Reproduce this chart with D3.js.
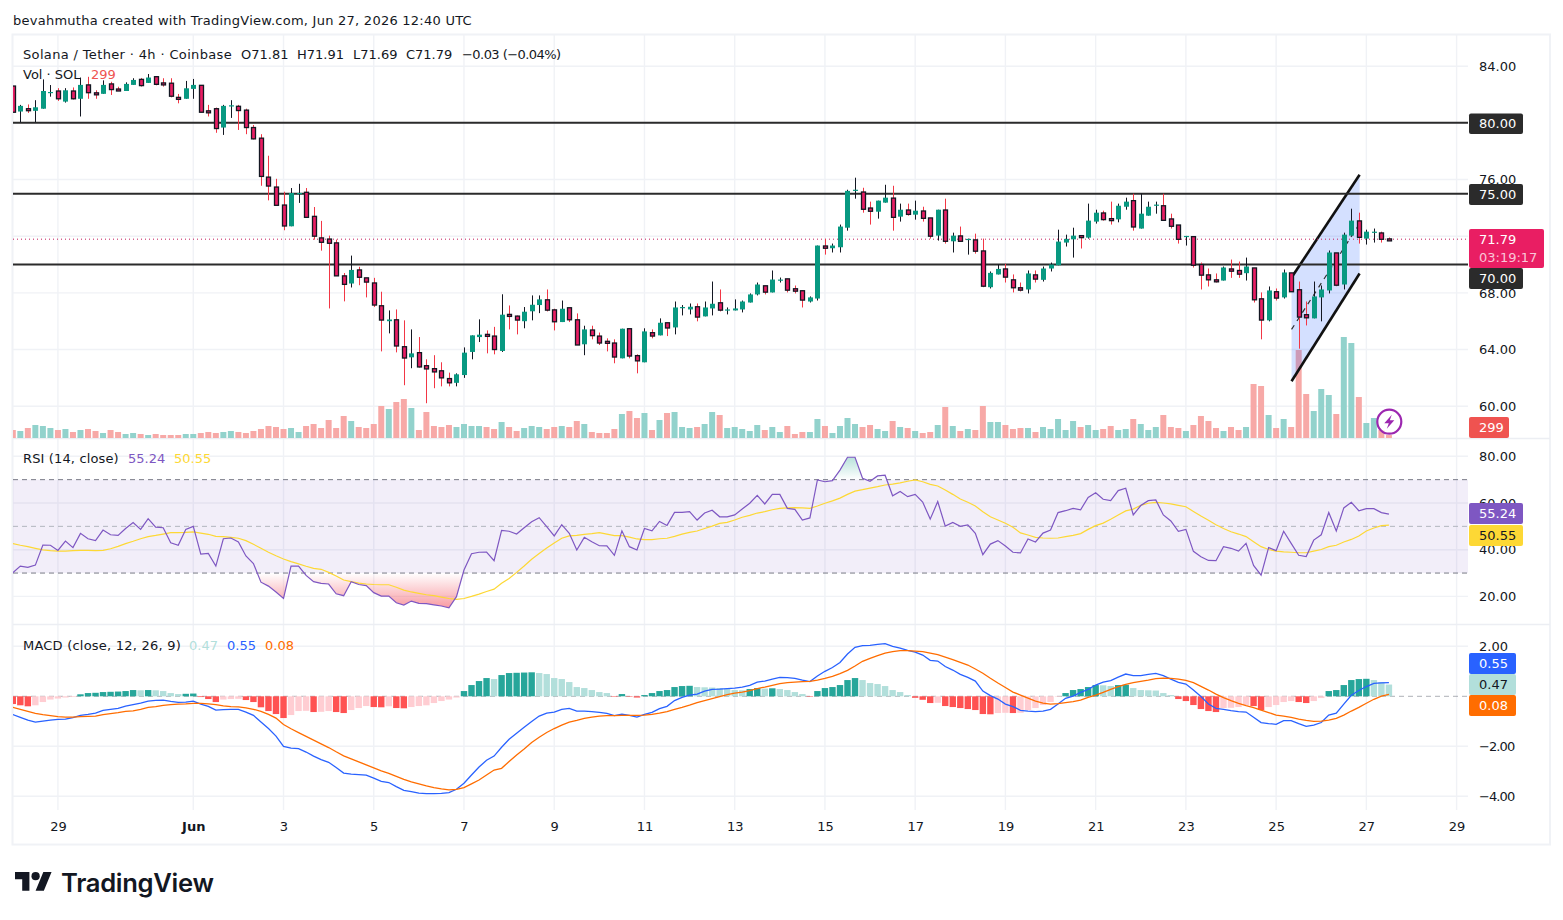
<!DOCTYPE html>
<html>
<head>
<meta charset="utf-8">
<title>SOL/USDT 4h</title>
<script src="https://cdn.jsdelivr.net/npm/d3@7/dist/d3.min.js"></script>
<style>
html,body{margin:0;padding:0;background:#fff;}
svg{display:block;}
text{font-family:"DejaVu Sans","Noto Sans",sans-serif;font-size:13px;fill:#131722;}
.domain{display:none;}
.tick line{display:none;}
</style>
</head>
<body>
<svg id="chart" width="1563" height="920"></svg>
<script>
// 4h candles, open/high/low/close
const opens = [82.6,80.8,81.0,80.85,81.0,82.13,82.25,81.5,82.25,81.7,
82.68,82.12,82.05,82.75,82.39,82.25,82.68,83.07,82.82,83.26,
82.82,82.8,81.8,81.7,82.4,82.65,80.85,81.0,79.67,81.2,
81.17,80.9,79.67,78.92,76.17,75.47,74.2,72.7,75.0,75.1,
73.4,71.88,71.8,71.53,69.2,68.66,69.62,69.06,68.7,67.09,
66.0,66.1,64.2,63.45,63.78,62.86,62.65,62.5,61.95,61.65,
62.2,63.83,64.88,65.07,64.95,63.9,66.48,66.36,66.0,66.7,
67.14,67.51,66.8,65.94,66.95,66.1,64.37,65.38,64.95,64.58,
64.46,63.38,65.47,63.57,63.1,65.19,65.0,65.89,65.56,66.95,
66.83,67.02,66.34,66.9,67.3,66.78,66.76,66.83,67.32,67.89,
68.5,68.03,68.9,68.99,68.29,68.15,67.39,67.6,71.31,71.15,
71.22,72.6,75.23,75.12,73.99,73.73,74.37,74.69,73.38,73.85,
73.52,73.78,73.29,72.04,73.85,71.64,72.02,71.76,71.74,70.96,
68.4,69.3,69.69,68.92,68.36,68.24,69.27,68.92,69.72,69.95,
71.55,71.78,72.04,71.9,73.03,73.64,73.24,73.19,74.08,74.51,
72.54,73.45,74.18,74.15,73.22,72.79,71.97,71.97,70.0,69.27,
68.92,68.87,69.69,69.58,69.39,69.76,67.58,66.06,68.08,67.68,
69.41,68.22,66.46,66.2,67.68,68.17,70.82,68.59,72.04,73.08,
71.83,72.28,72.23,71.81];
const highs = [82.6,81.27,81.3,81.6,83.07,82.67,82.45,82.45,82.5,83.2,
83.25,82.3,83.0,82.9,82.55,82.86,83.15,83.17,83.45,83.3,
83.15,83.15,82.04,82.96,83.1,82.65,81.27,81.08,81.27,81.6,
81.27,81.0,79.85,79.2,77.68,76.05,75.14,75.4,75.7,75.4,
74.06,73.08,72.04,71.76,69.4,70.63,69.84,69.06,69.06,68.08,
66.76,66.83,66.06,65.42,64.88,63.31,63.6,63.1,62.37,62.32,
64.15,65.0,66.13,65.35,65.6,67.9,67.11,66.4,67.0,67.82,
67.82,68.24,66.88,67.46,66.95,66.55,65.68,65.68,65.2,64.79,
64.72,65.47,65.47,63.66,65.5,65.42,66.2,65.89,67.39,67.14,
67.25,67.25,67.39,68.8,68.24,66.97,67.54,67.46,67.96,68.73,
68.5,69.58,69.08,68.99,68.52,68.15,67.75,71.34,71.81,71.48,
72.82,75.28,76.13,75.42,74.44,74.51,75.63,75.56,74.3,74.3,
74.51,74.08,73.29,73.87,74.65,72.25,72.68,71.83,72.18,71.83,
69.51,70.0,70.05,69.3,68.73,69.58,69.58,69.86,70.14,72.46,
72.11,72.6,72.06,74.3,73.87,73.8,74.44,74.3,74.72,75.0,
75.0,74.44,74.44,75.0,73.59,72.79,72.02,71.97,70.14,69.72,
69.37,69.86,70.35,70.21,70.49,69.76,68.03,68.45,68.31,69.65,
69.41,68.8,67.39,68.8,68.52,70.99,70.82,72.25,73.94,73.66,
72.46,72.54,72.32,71.91];
const lows = [80.75,80.05,80.7,80.05,81.0,81.85,81.55,81.43,81.65,80.45,
81.7,81.7,82.05,81.97,82.25,82.25,82.68,82.56,82.82,82.65,
82.56,81.8,81.38,81.7,81.7,80.75,80.45,79.3,79.15,80.35,
79.5,79.2,78.83,75.56,74.53,74.18,72.42,72.7,74.35,73.33,
71.76,70.98,66.9,69.2,67.4,68.38,68.54,67.68,67.0,63.87,
65.14,63.8,61.48,62.68,62.72,60.21,61.27,61.4,61.4,61.4,
62.0,63.31,64.53,63.73,63.66,63.83,65.42,65.07,65.5,66.06,
66.57,66.69,65.35,65.94,65.94,64.32,63.6,64.72,64.32,63.87,
63.03,63.38,63.38,62.32,63.1,64.79,65.0,64.95,65.07,66.41,
66.48,65.99,66.34,66.41,66.69,66.48,66.76,66.62,67.32,67.82,
67.89,68.03,68.73,68.03,67.96,66.97,67.32,67.46,70.7,70.85,
70.85,72.39,74.65,73.66,72.82,73.24,74.37,72.39,73.03,73.45,
73.17,73.03,71.83,71.69,71.48,70.85,71.64,70.7,70.77,68.4,
68.31,69.3,68.73,68.03,68.1,67.96,68.73,68.8,69.51,69.95,
71.27,70.49,71.13,71.83,72.89,73.1,72.82,72.98,73.87,72.39,
72.54,73.45,73.59,73.12,72.54,71.48,71.34,69.79,68.24,68.45,
68.73,68.87,69.06,69.06,68.87,67.32,64.72,65.99,67.46,67.6,
68.08,64.06,65.7,66.2,65.99,67.96,68.47,68.24,72.04,71.48,
71.41,71.55,71.55,71.69];
const closes = [80.75,81.2,80.95,81.1,82.25,82.18,81.7,82.3,81.7,82.68,
82.13,82.07,82.68,82.35,82.35,82.75,83.03,82.63,83.2,82.72,
82.77,81.88,81.67,82.44,82.68,80.75,80.8,79.6,81.2,81.24,
80.87,79.67,78.87,76.22,75.54,74.18,72.72,75.05,75.05,73.33,
72.0,71.57,71.5,69.2,68.6,69.62,69.1,68.76,67.14,66.08,
66.12,64.25,63.4,63.73,62.77,62.63,62.42,62.0,61.65,62.25,
63.78,65.0,65.05,65.02,64.0,66.46,66.43,66.08,66.67,67.16,
67.54,66.78,65.96,66.88,66.1,64.32,65.42,64.98,64.46,64.53,
63.47,65.47,63.54,63.2,65.28,64.95,65.89,65.52,66.97,67.0,
67.02,66.29,66.97,67.23,66.78,66.83,66.9,67.39,67.89,68.59,
68.05,68.94,68.94,68.19,68.12,67.49,67.68,71.34,71.15,71.34,
72.68,75.2,75.28,73.9,73.76,74.51,74.72,73.33,73.87,73.54,
73.8,73.26,72.0,73.87,71.64,72.04,71.64,71.81,70.94,68.47,
69.41,69.69,69.11,68.36,68.19,69.37,68.97,69.72,70.0,71.62,
71.81,72.04,71.97,73.1,73.66,73.17,73.19,74.15,74.44,72.65,
73.59,74.08,74.23,73.12,72.7,71.78,72.02,69.95,69.25,68.92,
68.85,69.79,69.53,69.32,69.86,67.51,66.08,68.17,67.63,69.44,
68.08,66.29,66.24,67.75,68.24,70.85,68.54,72.11,73.1,71.92,
72.32,72.32,71.78,71.79];
const volumes = [800,700,1000,1300,1200,1000,800,900,600,800,
900,700,500,800,600,400,500,400,300,400,
300,300,300,400,400,500,600,500,600,700,
600,500,700,900,1200,1100,900,1000,600,
1200,1400,1000,1800,1000,2200,1700,1100,1000,1400,
3200,2900,3600,3900,3000,800,2600,1200,1100,1300,
1100,1400,1200,1200,1100,900,1600,1100,700,1000,
1200,1100,900,1100,1200,1100,1700,1400,600,500,
500,900,2400,2700,2000,2500,800,1800,2500,2600,
1100,1000,1100,
1400,2600,2300,1000,1100,900,700,1300,800,1100,
600,1200,400,600,600,1900,1200,500,1200,2000,
1400,1100,1300,900,700,1700,1100,1000,700,500,
600,1300,3100,1200,700,900,800,3200,1600,1600,
1300,900,1000,1000,600,1100,900,1900,800,1700,
1100,1300,800,900,1200,800,900,1900,1400,800,
1100,2300,1100,1000,700,1300,2200,1700,1000,700,
1100,800,1100,5400,5200,2300,1000,1900,1100,8800,
4400,2700,4900,4300,2400,10100,9500,4100,1500,2000,
800,299];

// RSI(14) and its moving average
const rsi = [30.1,33,32.4,33.4,42,41.9,39.7,43.7,40.9,47,
44.7,43.9,48.4,46.4,46.1,49.1,51.6,48.7,53.3,49.7,
49.4,43,41.9,48.7,50,38.1,38.4,33,44.7,45,
43.3,37.3,34.1,26.1,24.4,21.9,19.1,33,33,29,
26.3,25.6,25.3,21.1,20.3,26.3,25.1,24.6,21.6,20.1,
20.1,17.3,16.3,18,17,16.9,16.4,15.9,15.1,19.9,
31.3,38.3,38.9,39,35.3,48.3,47.9,46.7,49.4,52,
53.7,49.9,45.9,50.7,47,39.9,45.3,43.4,41.7,41.6,
37.6,48.1,41.3,39.9,49.1,48.1,52.1,50.4,56,56,
56.3,52.7,55.7,56.9,54.1,54.1,54.9,57.4,59.9,63.3,
59.6,63.7,63.7,57.7,57.3,52.7,53.6,69.9,69.1,69.6,
74.1,79.6,79.6,70.6,69.3,71.6,71.9,63.1,64.9,62.7,
63.7,60.4,53.1,60.6,50.1,51.7,50,50.6,47,37.9,
42.4,43.9,41.6,38.9,38.6,44.6,43.3,47.1,48.4,55.9,
56.7,57.7,57.1,62.4,64.4,61.6,61,65.3,66.3,54.9,
58.9,61,61.3,54.9,52.3,47.9,48.7,39.3,37,35.4,
35.3,41.3,40.6,39.4,42.7,33.3,29.1,40.9,39.6,47.9,
42.7,37.6,37.1,44.1,46.4,55.9,48,57.9,60.3,56.7,
57.6,57.6,55.9,55.24];
const rsiAvg = [42.6,41.9,41.3,40.6,39.9,39.6,39.4,39.4,39.6,39.7,
39.7,39.6,39.7,40.4,41.4,42.6,43.6,44.7,45.6,46.1,
46.7,47.3,47.3,47.4,47.6,47.1,46.6,45.7,45.6,45.3,
44.9,43.9,42.3,40.6,38.9,37.4,36,34.9,33.9,32.9,
32,31.6,30.3,28.7,27,26.3,25.7,25.3,25.1,25,
25,23.9,22.7,21.9,21.3,20.7,20.3,19.7,19.1,18.7,
19.1,20,21,22.1,23.1,25.6,27.7,30.3,33,35.9,
38.4,40.7,42.9,44.9,45.9,46.1,46.6,46.9,47.3,46.7,
46,46,45.4,44.6,44.3,44.3,44.7,44.9,45.7,46.7,
47.4,48,49.1,50.1,51.3,51.7,52.7,53.9,54.7,55.7,
56.3,57.1,57.7,57.9,58,57.9,57.7,58.7,59.9,60.9,
62.1,63.7,65.1,65.7,66.4,67,67.7,68.1,68.6,69.3,
69.9,69.1,68,67.3,65.6,63.7,61.7,60.3,58.7,56.3,
54.1,52.7,51.3,49.6,47.2,46.3,45.3,45,44.9,45,
45.6,46.1,46.9,48.7,50.3,51.4,53,54.9,56.6,57.4,
59,59.9,60.3,60,59.6,59,58.4,56.4,54.4,52.6,
50.7,49.1,47.7,46.7,45.6,43.4,41.3,40.1,39.4,39.1,
38.9,38.7,38.7,39.4,40.1,41.3,41.9,43.3,44.4,45.9,
48,49.3,50.3,50.55];

// MACD(12, 26, 9): histogram, MACD line, signal line
const macdHist = [-.31,-.36,-.4,-.36,-.23,-.13,-.09,-.05,-.03,.08,
.13,.14,.17,.18,.19,.21,.25,.24,.25,.24,
.21,.13,.09,.1,.11,-.03,-.11,-.23,-.13,-.11,
-.1,-.15,-.23,-.44,-.59,-.71,-.87,-.75,-.59,-.58,
-.63,-.62,-.59,-.63,-.67,-.55,-.47,-.39,-.43,-.44,
-.4,-.47,-.48,-.43,-.39,-.36,-.27,-.19,-.13,-.05,
.21,.45,.61,.73,.69,.85,.93,.94,.95,.96,
.93,.89,.73,.69,.57,.37,.33,.25,.17,.13,
-.02,.09,-.02,-.05,.05,.13,.21,.25,.37,.41,
.42,.37,.36,.35,.33,.29,.25,.24,.29,.33,
.31,.32,.29,.25,.17,.09,-.02,.21,.33,.37,
.45,.65,.73,.65,.53,.49,.41,.25,.17,.05,
-.06,-.14,-.27,-.26,-.39,-.43,-.47,-.51,-.55,-.71,
-.72,-.67,-.66,-.67,-.66,-.55,-.47,-.35,-.23,-.02,
.13,.25,.29,.37,.45,.44,.41,.45,.46,.33,
.25,.24,.23,.13,.05,-.11,-.19,-.35,-.51,-.59,
-.63,-.47,-.46,-.43,-.35,-.39,-.55,-.43,-.35,-.23,
-.19,-.23,-.27,-.19,-.07,.21,.25,.45,.65,.69,
.7,.65,.57,.47];
const macdLine = [-.73,-.84,-.95,-1.03,-.99,-.95,-.92,-.91,-.85,-.76,
-.72,-.67,-.56,-.52,-.48,-.39,-.33,-.27,-.19,-.16,
-.15,-.2,-.24,-.23,-.19,-.31,-.4,-.55,-.53,-.52,
-.52,-.63,-.76,-1.03,-1.29,-1.59,-2.0,-2.07,-2.09,-2.23,
-2.39,-2.53,-2.64,-2.85,-3.07,-3.11,-3.13,-3.15,-3.27,-3.4,
-3.45,-3.61,-3.76,-3.81,-3.87,-3.89,-3.89,-3.88,-3.85,-3.72,
-3.48,-3.15,-2.83,-2.56,-2.39,-2.04,-1.72,-1.48,-1.24,-1.01,
-.79,-.67,-.63,-.52,-.48,-.59,-.59,-.61,-.64,-.68,
-.77,-.71,-.76,-.83,-.72,-.64,-.49,-.4,-.17,-.04,
.05,.09,.21,.28,.29,.31,.33,.37,.44,.57,
.61,.69,.76,.75,.72,.65,.59,.81,1.0,1.15,
1.35,1.69,1.96,2.03,2.04,2.08,2.11,2.0,1.93,1.84,
1.77,1.65,1.44,1.41,1.19,1.05,.88,.76,.61,.21,
.03,-.11,-.31,-.41,-.56,-.59,-.61,-.59,-.52,-.31,
-.08,.01,.16,.28,.45,.57,.63,.77,.89,.83,
.83,.88,.92,.83,.69,.56,.49,.25,-.01,-.31,
-.48,-.52,-.57,-.61,-.63,-.84,-1.05,-1.09,-1.12,-.97,
-.97,-1.09,-1.2,-1.15,-1.05,-.75,-.67,-.31,.04,.23,
.39,.52,.54,.55];
const macdSignal = [-.44,-.52,-.6,-.68,-.73,-.77,-.81,-.83,-.83,-.81,
-.8,-.79,-.73,-.69,-.65,-.6,-.58,-.52,-.44,-.41,
-.36,-.33,-.31,-.3,-.28,-.28,-.3,-.33,-.38,-.41,
-.42,-.46,-.52,-.6,-.72,-.87,-1.13,-1.3,-1.45,-1.6,
-1.75,-1.9,-2.05,-2.22,-2.38,-2.5,-2.62,-2.74,-2.86,-2.98,
-3.08,-3.2,-3.32,-3.42,-3.5,-3.58,-3.65,-3.7,-3.74,-3.72,
-3.65,-3.5,-3.35,-3.15,-2.95,-2.88,-2.61,-2.35,-2.11,-1.85,
-1.64,-1.45,-1.29,-1.15,-1.03,-.96,-.88,-.83,-.79,-.77,
-.77,-.76,-.76,-.76,-.75,-.72,-.67,-.61,-.52,-.44,
-.35,-.25,-.17,-.09,-.01,.07,.13,.17,.23,.31,
.37,.44,.51,.55,.57,.59,.6,.65,.72,.8,
.91,1.04,1.21,1.4,1.52,1.63,1.73,1.79,1.83,1.83,
1.81,1.79,1.73,1.67,1.57,1.47,1.36,1.25,1.09,.92,
.72,.53,.35,.17,.05,-.07,-.19,-.27,-.31,-.29,
-.25,-.21,-.15,-.04,.05,.16,.28,.39,.48,.55,
.6,.65,.71,.73,.72,.69,.64,.55,.4,.25,
.09,-.05,-.17,-.28,-.37,-.45,-.55,-.65,-.75,-.79,
-.84,-.91,-.96,-1.0,-.99,-.95,-.88,-.75,-.59,-.44,
-.28,-.12,.01,.08];

// Date axis: candle index of each labelled session
const dateTickIndex = [6,24,36,48,60,72,84,96,108,120,132,144,156,168,180,192];
const dateTickLabels = ["29","Jun","3","5","7","9","11","13","15","17","19","21","23","25","27","29"];
const priceTicks = [84,80,76,72,68,64,60];
const rsiTicks = [80,60,40,20];
const macdTicks = [2,0,-2,-4];
const supportLevels = [80,75,70];
const lastPrice = 71.79, lastVolume = 299;

const svg = d3.select("#chart");
const paneLeft = 13, paneRight = 1468;
const fontStack = '"DejaVu Sans","Noto Sans",sans-serif';
const x = d3.scaleLinear().domain([0,192]).range([12.8,1456.6]);
const yPrice = d3.scaleLinear().domain([84,60]).range([66.2,406.2]);
const yVol = d3.scaleLinear().domain([0,10100]).range([438,337]);
const yRsi = d3.scaleLinear().domain([80,20]).range([456.3,596.4]);
const yMacd = d3.scaleLinear().domain([2,-4]).range([646.3,796.3]);
const fmt = d3.format(".2f");
const gridColor = "#f0f2f6";

const defs = svg.append("defs");
const clipRect = (id,x0,y0,x1,y1)=>defs.append("clipPath").attr("id",id).append("rect")
  .attr("x",x0).attr("y",y0).attr("width",x1-x0).attr("height",y1-y0);
clipRect("clipMain",paneLeft,35,paneRight,438);
clipRect("clipRsi",paneLeft,439,paneRight,624);
clipRect("clipMacd",paneLeft,625,paneRight,810);
clipRect("clipOversold",paneLeft,yRsi(30),paneRight,624);
clipRect("clipOverbought",paneLeft,439,paneRight,yRsi(70));

const addGradient = (id,y1,y2,c1,o1,c2,o2)=>{
  const g = defs.append("linearGradient").attr("id",id).attr("gradientUnits","userSpaceOnUse")
    .attr("x1",0).attr("x2",0).attr("y1",y1).attr("y2",y2);
  g.append("stop").attr("offset",0).attr("stop-color",c1).attr("stop-opacity",o1);
  g.append("stop").attr("offset",1).attr("stop-color",c2).attr("stop-opacity",o2);
};
addGradient("gradOversold",yRsi(30),yRsi(15),"#f23645",0,"#f23645",0.5);
addGradient("gradOverbought",yRsi(80),yRsi(70),"#089981",0.3,"#089981",0);

// Frame and page caption
svg.append("rect").attr("x",12.5).attr("y",34.5).attr("width",1537.5).attr("height",810)
  .attr("fill","none").attr("stroke",gridColor).attr("stroke-width",2);
svg.append("text").attr("x",13).attr("y",24.5).style("letter-spacing","0.25px")
  .text("bevahmutha created with TradingView.com, Jun 27, 2026 12:40 UTC");

// Grid
const gridG = svg.append("g").attr("stroke",gridColor).attr("stroke-width",1.4);
gridG.selectAll("line.v").data(dateTickIndex).join("line").attr("class","v")
  .attr("x1",d=>x(d)).attr("x2",d=>x(d)).attr("y1",35).attr("y2",810);
const hGrid = (ticks,scale)=>gridG.append("g").selectAll("line").data(ticks).join("line")
  .attr("x1",paneLeft).attr("x2",paneRight).attr("y1",d=>scale(d)).attr("y2",d=>scale(d));
hGrid(priceTicks,yPrice); hGrid(rsiTicks,yRsi); hGrid(macdTicks.filter(d=>d!==0),yMacd);
[438.5,624.5].forEach(py=>svg.append("line").attr("x1",paneLeft).attr("x2",1550)
  .attr("y1",py).attr("y2",py).attr("stroke","#eceef3").attr("stroke-width",1.6));

// Main pane
const main = svg.append("g").attr("clip-path","url(#clipMain)");
const indices = d3.range(opens.length);
const isUp = i=>closes[i]>=opens[i];
main.append("g").selectAll("rect").data(indices).join("rect")
  .attr("x",i=>x(i)-3).attr("width",6)
  .attr("y",i=>yVol(volumes[i])).attr("height",i=>yVol(0)-yVol(volumes[i]))
  .attr("fill",i=>isUp(i)?"#92d2cc":"#f7a9a7");

// Rising channel: price levels at its two ends, placed by candle index
const channelStart = 170.05, channelEnd = 179.1;
const channelUpper = [69.08,76.34], channelMid = [65.42,72.89], channelLower = [61.76,69.37];
const channelArea = d3.area().x(d=>x(d[0])).y0(d=>yPrice(d[1])).y1(d=>yPrice(d[2]));
main.append("path").datum([[channelStart,channelUpper[0],channelLower[0]],[channelEnd,channelUpper[1],channelLower[1]]])
  .attr("d",channelArea).attr("fill","#2962ff").attr("fill-opacity",0.2);
const channelLine = d3.line().x(d=>x(d[0])).y(d=>yPrice(d[1]));
main.append("path").datum([[channelStart,channelMid[0]],[channelEnd,channelMid[1]]])
  .attr("d",channelLine).attr("fill","none").attr("stroke","#2e2e2e").attr("stroke-width",1.2).attr("stroke-dasharray","5 5");
[channelUpper,channelLower].forEach(l=>main.append("path")
  .datum([[channelStart,l[0]],[channelEnd,l[1]]]).attr("d",channelLine)
  .attr("fill","none").attr("stroke","#111").attr("stroke-width",2.6));

// Horizontal levels
main.append("g").selectAll("line").data(supportLevels).join("line")
  .attr("x1",paneLeft).attr("x2",paneRight).attr("y1",d=>yPrice(d)).attr("y2",d=>yPrice(d))
  .attr("stroke","#2b2b2b").attr("stroke-width",2);
// Last price line
main.append("line").attr("x1",paneLeft).attr("x2",paneRight)
  .attr("y1",yPrice(lastPrice)).attr("y2",yPrice(lastPrice))
  .attr("stroke","#c2185b").attr("stroke-width",1).attr("stroke-dasharray","1 3");

// Candles
const candle = main.append("g").selectAll("g").data(indices).join("g");
candle.append("line")
  .attr("x1",i=>Math.round(x(i))+.5).attr("x2",i=>Math.round(x(i))+.5)
  .attr("y1",i=>yPrice(highs[i])).attr("y2",i=>yPrice(lows[i]))
  .attr("stroke",i=>isUp(i)?"#131722":"#f23645").attr("stroke-width",1);
candle.append("rect")
  .attr("x",i=>Math.round(x(i))-(isUp(i)?2:1.5))
  .attr("width",i=>isUp(i)?5:4)
  .attr("y",i=>yPrice(Math.max(opens[i],closes[i])))
  .attr("height",i=>Math.max(isUp(i)?1.2:2,Math.abs(yPrice(opens[i])-yPrice(closes[i]))))
  .attr("fill",i=>isUp(i)?"#089981":"#e91e63")
  .attr("stroke",i=>isUp(i)?"none":"#131722").attr("stroke-width",1.3);

// Volume alert badge
const badge = svg.append("g").attr("transform","translate(1389.3,421.7)");
badge.append("circle").attr("r",12).attr("fill","#fff").attr("fill-opacity",0.7)
  .attr("stroke","#9c27b0").attr("stroke-width",2.2);
badge.append("path").attr("d","M2.5,-7 L-5,1.5 L-0.5,1.5 L-2.5,7 L5,-1.5 L0.5,-1.5 Z")
  .attr("fill","#9c27b0");

// RSI pane
const rsiG = svg.append("g");
rsiG.append("rect").attr("x",paneLeft).attr("width",paneRight-paneLeft)
  .attr("y",yRsi(70)).attr("height",yRsi(30)-yRsi(70)).attr("fill","#7e57c2").attr("fill-opacity",0.1);
const rsiBandArea = d3.area().x((d,i)=>x(i)).y1(d=>yRsi(d));
rsiG.append("path").datum(rsi).attr("clip-path","url(#clipOversold)")
  .attr("d",rsiBandArea.y0(yRsi(30))).attr("fill","url(#gradOversold)");
rsiG.append("path").datum(rsi).attr("clip-path","url(#clipOverbought)")
  .attr("d",rsiBandArea.y0(yRsi(70))).attr("fill","url(#gradOverbought)");
[[70,"#787b86"],[30,"#787b86"],[50,"#b2b5be"]].forEach(([lv,c])=>
  rsiG.append("line").attr("x1",paneLeft).attr("x2",paneRight).attr("y1",yRsi(lv)).attr("y2",yRsi(lv))
    .attr("stroke",c).attr("stroke-width",1).attr("stroke-dasharray","5 4"));
const rsiPath = d3.line().x((d,i)=>x(i)).y(d=>yRsi(d));
const rsiClip = rsiG.append("g").attr("clip-path","url(#clipRsi)");
rsiClip.append("path").datum(rsiAvg).attr("d",rsiPath).attr("fill","none").attr("stroke","#fdd835").attr("stroke-width",1.2);
rsiClip.append("path").datum(rsi).attr("d",rsiPath).attr("fill","none").attr("stroke","#7e57c2").attr("stroke-width",1.2);

// MACD pane
const macdG = svg.append("g").attr("clip-path","url(#clipMacd)");
macdG.append("line").attr("x1",paneLeft).attr("x2",paneRight).attr("y1",yMacd(0)).attr("y2",yMacd(0))
  .attr("stroke","#787b86").attr("stroke-opacity",0.6).attr("stroke-dasharray","5 4");
macdG.append("g").selectAll("rect").data(macdHist).join("rect")
  .attr("x",(d,i)=>x(i)-3.2).attr("width",6.4)
  .attr("y",d=>Math.min(yMacd(d),yMacd(0))).attr("height",d=>Math.abs(yMacd(d)-yMacd(0)))
  .attr("fill",(d,i)=>{
    const prev = i?macdHist[i-1]:0;
    if(d>=0) return d>=prev?"#26a69a":"#b2dfdb";
    return d<prev?"#ff5252":"#ffcdd2";
  });
const macdPath = d3.line().x((d,i)=>x(i)).y(d=>yMacd(d));
macdG.append("path").datum(macdLine).attr("d",macdPath).attr("fill","none").attr("stroke","#2962ff").attr("stroke-width",1.3);
macdG.append("path").datum(macdSignal).attr("d",macdPath).attr("fill","none").attr("stroke","#ff6d00").attr("stroke-width",1.3);

// Axes
const axisFmt = d=>fmt(d).replace("-","\u2212");
const addYAxis = (scale,ticks)=>{
  svg.append("g").attr("transform","translate(1479,0)")
    .call(d3.axisRight(scale).tickValues(ticks).tickSize(0).tickPadding(0).tickFormat(axisFmt))
    .call(g=>g.selectAll("text").attr("font-size",13).style("font-family",fontStack).attr("fill","#131722")
      .style("letter-spacing",d=>d<0?"-0.9px":"0"));
};
addYAxis(yPrice,priceTicks);
addYAxis(yRsi,rsiTicks);
addYAxis(yMacd,macdTicks);
svg.append("g").attr("transform","translate(0,819)")
  .call(d3.axisBottom(x).tickValues(dateTickIndex).tickSize(0).tickPadding(3)
    .tickFormat(d=>dateTickLabels[dateTickIndex.indexOf(d)]))
  .call(g=>g.selectAll("text").attr("font-size",13).style("font-family",fontStack)
    .attr("fill","#131722").attr("font-weight",d=>d===24?"700":"400"));

// Value tags on the right scale
const tag = (y0,h,w,fill,lines)=>{
  svg.append("rect").attr("x",1469).attr("y",y0).attr("width",w).attr("height",h).attr("rx",2).attr("fill",fill);
  lines.forEach(([t,cy,c,op])=>svg.append("text").attr("x",1479).attr("y",cy).attr("dy","0.35em")
    .style("fill",c).style("fill-opacity",op||1).text(t));
};
tag(113.5,20.5,54,"#2b2b2b",[[fmt(80),123.5,"#fff"]]);
tag(184,21,54,"#2b2b2b",[[fmt(75),194.5,"#fff"]]);
tag(268,21,54,"#2b2b2b",[[fmt(70),278.5,"#fff"]]);
tag(229,39,75,"#e91e63",[[fmt(lastPrice),239.5,"#fff"],["03:19:17",257.5,"#fff",0.75]]);
tag(417,21,40,"#ef5350",[[String(lastVolume),427.5,"#fff"]]);
tag(503,21,54,"#7e57c2",[[fmt(rsi[rsi.length-1]),513.5,"#fff"]]);
tag(525,21,54,"#fdd835",[[fmt(rsiAvg[rsiAvg.length-1]),535.5,"#131722"]]);
tag(653,21,47,"#2962ff",[[fmt(macdLine[macdLine.length-1]),663.5,"#fff"]]);
tag(674,21,47,"#b2dfdb",[[fmt(macdHist[macdHist.length-1]),684.5,"#131722"]]);
tag(695,21,47,"#ff6d00",[[fmt(macdSignal[macdSignal.length-1]),705.5,"#fff"]]);

// Legends
const legend = (y,parts)=>parts.forEach(([t,px,c,ls])=>{
  svg.append("text").attr("x",px).attr("y",y).style("fill",c||"#131722")
    .style("letter-spacing",(ls||0)+"px").text(t);
});
legend(59,[["Solana / Tether \u00b7 4h \u00b7 Coinbase",23,null,0.35],["O71.81",241],["H71.91",297],["L71.69",353],["C71.79",406],["\u22120.03 (\u22120.04%)",462,null,-0.55]]);
legend(79,[["Vol \u00b7 SOL",23],[String(lastVolume),91,"#ef5350"]]);
legend(463,[["RSI (14, close)",23,null,0.14],["55.24",128,"#7e57c2"],["50.55",174,"#fdd835"]]);
legend(650,[["MACD (close, 12, 26, 9)",23,null,0.22],["0.47",189,"#b2dfdb"],["0.55",227,"#2962ff"],["0.08",265,"#ff6d00"]]);

// Brand mark
const logo = svg.append("g").attr("transform","translate(15,868) scale(1.03)").attr("fill","#131722");
logo.append("path").attr("d","M14 22H7V11H0V4h14v18zM28 22h-8l7.5-18h8L28 22z");
logo.append("circle").attr("cx",20).attr("cy",8).attr("r",4);
svg.append("text").attr("x",61).attr("y",892).style("font-family","Inter,sans-serif")
  .style("font-size","25.6px").style("font-weight",600).style("letter-spacing","-0.3px").text("TradingView");
</script>
</body>
</html>
